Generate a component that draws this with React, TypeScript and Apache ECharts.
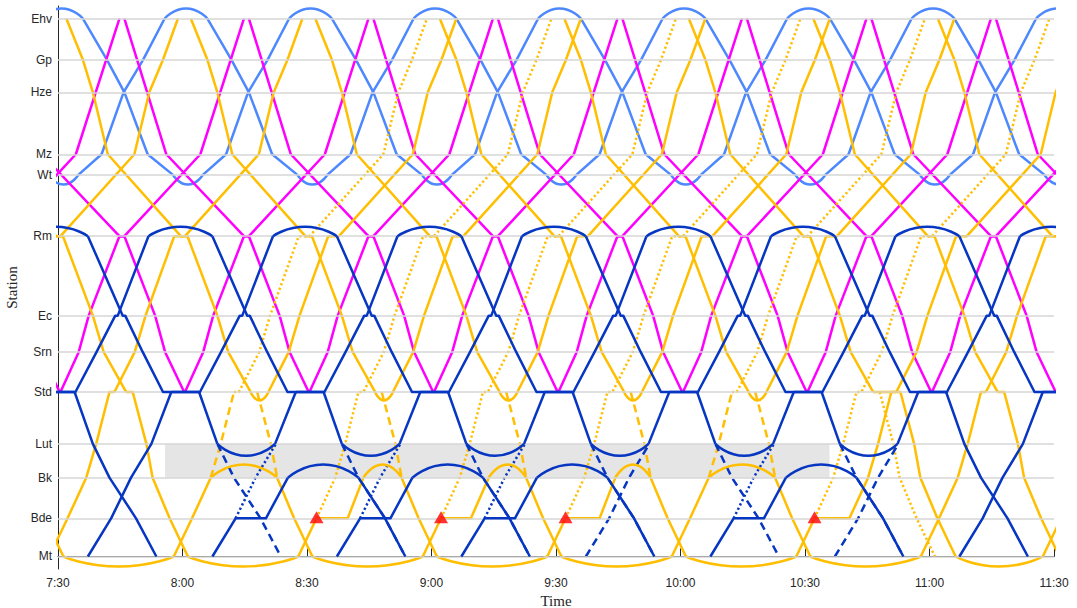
import React, { useEffect, useRef } from 'react';
import * as echarts from 'echarts';

type Pt = [number, string];

// all times are minutes after 7:30 (T0 = 7:30 in minutes after midnight)
const T0 = 450;
const xMin = 450;
const xMax = 690;
const xStep = 30;
const yMin = -2;
const yMax = 88;

const stationNames = ['Mt', 'Bde', 'Bk', 'Lut', 'Std', 'Srn', 'Ec', 'Rm', 'Wt', 'Mz', 'Hze', 'Gp', 'Ehv'];
const stationKm = [0, 6.1, 12.6, 18.0, 26.3, 32.7, 38.5, 51.2, 61.0, 64.3, 74.2, 79.4, 86.0];

// blocked section Lut-Bk
const blockFrom = 25.8;
const blockTo = 185.9;

// ---------- light blue sprinter Ehv - Wt ----------
const lbEhvDep = [-54, -24, 6, 36, 66, 96, 126, 156, 186, 216];
const lbDownRun: Pt[] = [[0, 'Ehv'], [5.8, 'Gp'], [10.0, 'Hze'], [15.6, 'Mz'], [21.7, 'Wt']];
const lbWtTurn = [21.7, 28.9];
const lbUpRun: Pt[] = [[28.9, 'Wt'], [34.5, 'Mz'], [39.8, 'Hze'], [44.5, 'Gp'], [49.7, 'Ehv']];
const lbEhvTurn = [49.7, 60.0];

// ---------- magenta intercity Ehv - Std ----------
const mgEhvDep = [-44, -14, 16, 46, 76, 106, 136, 166, 196, 226];
const mgDownRun: Pt[] = [[0, 'Ehv'], [10.1, 'Mz'], [28.8, 'Rm'], [30.0, 'Rm'], [37.4, 'Ec'], [39.8, 'Srn'], [44.4, 'Std']];
const mgStdDep = [-29.4, 0.6, 30.6, 60.6, 90.6, 120.6, 150.6, 180.6, 210.6];
const mgUpRun: Pt[] = [[0, 'Std'], [4.4, 'Srn'], [6.8, 'Ec'], [14.2, 'Rm'], [15.4, 'Rm'], [33.7, 'Mz'], [44.2, 'Ehv']];

// ---------- orange intercity Ehv - Mt ----------
const orEhvDep = [-28, 2, 32, 62, 92, 122, 152, 182, 212];
const orDownRun: Pt[] = [[0, 'Ehv'], [4.0, 'Gp'], [6.4, 'Hze'], [10.0, 'Mz'], [27.6, 'Rm'], [29.2, 'Rm'], [36.4, 'Ec'], [39.0, 'Srn'], [44.4, 'Std']];
const orSouthDownRun: Pt[] = [[0, 'Std'], [3.3, 'Lut'], [4.8, 'Bk'], [8.9, 'Bde'], [13.3, 'Mt']];
const orSouthDownFromBk: Pt[] = [[0, 'Bk'], [4.1, 'Bde'], [8.5, 'Mt']];
const orSouthUpRun: Pt[] = [[0, 'Mt'], [4.4, 'Bde'], [8.9, 'Bk'], [11.3, 'Lut'], [14.5, 'Std'], [15.7, 'Std']];
const orNorthUpRun: Pt[] = [[0, 'Std'], [4.9, 'Srn'], [7.5, 'Ec'], [14.4, 'Rm'], [17.0, 'Rm'], [34.8, 'Mz'], [38.4, 'Hze'], [41.7, 'Gp'], [45.3, 'Ehv']];
const orSouthDownStd = [[-13.6, -12], [16.4, 18], [226.4, 228]];
const orMtTurns = [[1.3, 27.9], [31.3, 57.9], [61.3, 87.9], [91.3, 117.9], [121.3, 147.9], [151.3, 177.9], [181.3, 207.9], [216.3, 237.3]];
const orSouthUpMtDep = [-2.1, 207.9, 237.3];
const orNorthUpStdDep = [-16.4, 13.6, 50.7, 80.7, 110.7, 140.7, 170.7, 202.0, 223.6];
const orStdTurns = [[46.4, 50.7], [76.4, 80.7], [106.4, 110.7], [136.4, 140.7], [166.4, 170.7]];
const orCutDownStdDep = [48, 78, 108, 138, 168];
const orBkTurns = [[36.8, 52.8], [73.6, 82.8], [103.8, 112.8], [134.3, 142.8], [156.8, 172.8]];
const orToBkMtDep = [27.9, 147.9];
const orBdeWaitMtDep = [57.9, 87.9, 117.9];
const orBdeWaitLeave = [69.8, 99.5, 130.5];
const orLateUp: Pt[] = [[177.9, 'Mt'], [182.3, 'Bde'], [190.7, 'Bde'], [195.2, 'Bk'], [197.6, 'Lut'], [200.8, 'Std'], [202.0, 'Std']];
const orHeldDown = [196.4, 203.0];
const orPlannedDownStdDep = [198.0];
const orPlannedUpFromBde = [57.9, 87.9, 117.9, 177.9];
const orPlannedUpFromBk = [27.9, 147.9];
const bdeHoldPoints = [62.3, 92.3, 122.3, 182.3];

// ---------- dark blue sprinter Rm - Mt ----------
const dbMtDep = [-82.8, -52.8, -22.8, 7.2, 37.2, 67.2, 97.2, 127.2, 157.2, 187.2, 217.2];
const dbNorthRun: Pt[] = [[20.1, 'Std'], [27.0, 'Std'], [32.1, 'Srn'], [36.6, 'Ec'], [37.2, 'Ec'], [44.6, 'Rm']];
const dbRmTurn = [44.6, 60.0];
const dbNorthDownRun: Pt[] = [[60.0, 'Rm'], [68.4, 'Ec'], [69.0, 'Ec'], [73.2, 'Srn'], [78.1, 'Std'], [86.8, 'Std']];
const dbSouthUpRun: Pt[] = [[0, 'Mt'], [5.6, 'Bde'], [10.4, 'Bk'], [15.3, 'Lut'], [20.1, 'Std']];
const dbSouthDownRun: Pt[] = [[0, 'Std'], [4.4, 'Lut'], [8.4, 'Bk'], [14.8, 'Bde'], [19.7, 'Mt']];
const dbSouthDownFromBk: Pt[] = [[0, 'Bk'], [6.4, 'Bde'], [11.3, 'Mt']];
const dbSouthUpMtDep = [-22.8, 7.2, 217.2];
const dbSouthDownStdDep = [4.0, 214.0];
const dbLutTurnStdDep = [34.0, 64.0, 94.0, 124.0, 154.0, 184.0];
const dbLutTurn = [4.4, 18.3];
const dbLutReturn: Pt[] = [[18.3, 'Lut'], [23.3, 'Std']];
const dbBdeWaitMtDep = [37.2, 67.2, 97.2, 157.2];
const dbBdeWaitLeave = [50.1, 80.1, 110.1, 170.1];
const dbBkTurnDep = [72.4, 102.4, 132.4, 192.4];
const dbCancelledMtDep = [127.2, 187.2];

const C_LB = '#4D88FF';
const C_MG = '#FF00FF';
const C_OR = '#FFBE00';
const C_DB = '#0636C2';

const km = (s: string) => stationKm[stationNames.indexOf(s)];
const run = (base: number, tpl: Pt[]) => tpl.map(([o, s]) => [T0 + base + o, km(s)]);
const turn = (from: number, to: number, s: string, bulge: number) => [
  [T0 + from, km(s)],
  [T0 + (from + to) / 2, km(s) + bulge],
  [T0 + to, km(s)],
];
const fmtTime = (v: number) => `${Math.floor(v / 60)}:${String(Math.round(v % 60)).padStart(2, '0')}`;

function buildOption() {
  const series: any[] = [];
  const add = (data: any[], color: string, style = 'solid', smooth = false, z = 3) => {
    series.push({
      type: 'line',
      data,
      symbol: 'none',
      showSymbol: false,
      smooth: smooth ? 0.6 : false,
      silent: true,
      animation: false,
      z,
      lineStyle: {
        color,
        width: 2.5,
        type: style === 'solid' ? 'solid' : style === 'dashed' ? [8, 5] : [2.2, 2.6],
        cap: 'butt',
        join: 'round',
      },
    });
  };

  // background: blocked area + station grid lines
  series.push({
    type: 'line',
    data: [],
    silent: true,
    z: 0,
    markArea: {
      silent: true,
      animation: false,
      itemStyle: { color: '#E5E5E5' },
      data: [[{ xAxis: T0 + blockFrom, yAxis: km('Lut') }, { xAxis: T0 + blockTo, yAxis: km('Bk') }]],
    },
  });
  series.push({
    type: 'line',
    data: [],
    silent: true,
    z: 1,
    markLine: {
      silent: true,
      animation: false,
      symbol: ['none', 'none'],
      label: { show: false },
      lineStyle: { color: '#D6D6D6', width: 1.5, type: 'solid' },
      data: stationKm.map((v) => ({ yAxis: v })),
    },
  });

  // light blue
  lbEhvDep.forEach((T) => {
    add(run(T, lbDownRun), C_LB);
    add(turn(T + lbWtTurn[0], T + lbWtTurn[1], 'Wt', -1.55), C_LB, 'solid', true);
    add(run(T, lbUpRun), C_LB);
    add(turn(T + lbEhvTurn[0], T + lbEhvTurn[1], 'Ehv', 1.6), C_LB, 'solid', true);
  });

  // magenta
  mgEhvDep.forEach((T) => add(run(T, mgDownRun), C_MG));
  mgStdDep.forEach((S) => add(run(S, mgUpRun), C_MG));

  // orange planned (dashed / dotted)
  orCutDownStdDep.forEach((D) => add(run(D, orSouthDownRun.slice(0, 3)), C_OR, 'dashed'));
  orPlannedDownStdDep.forEach((D) => add(run(D, orSouthDownRun), C_OR, 'dotted'));
  orPlannedUpFromBde.forEach((M) =>
    add([...run(M, orSouthUpRun.slice(1)), ...run(M + 15.7, orNorthUpRun).slice(1)], C_OR, 'dotted'));
  orPlannedUpFromBk.forEach((M) => {
    add(run(M, orSouthUpRun.slice(2, 5)), C_OR, 'dashed');
    add([...run(M, orSouthUpRun.slice(4)), ...run(M + 15.7, orNorthUpRun).slice(1)], C_OR, 'dotted');
  });

  // dark blue planned (dashed / dotted)
  dbLutTurnStdDep.forEach((D) => add(run(D, dbSouthDownRun.slice(1)), C_DB, 'dashed'));
  dbBdeWaitMtDep.forEach((M) => add(run(M, dbSouthUpRun.slice(1, 4)), C_DB, 'dotted'));
  dbCancelledMtDep.forEach((M) => add(run(M, dbSouthUpRun.slice(0, 4)), C_DB, 'dashed'));

  // orange actual
  orEhvDep.forEach((T) => add(run(T, orDownRun), C_OR, 'solid', false, 4));
  orSouthDownStd.forEach(([a, d]) => add([[T0 + a, km('Std')], ...run(d, orSouthDownRun)], C_OR, 'solid', false, 4));
  add([[T0 + orHeldDown[0], km('Std')], ...run(orHeldDown[1], orSouthDownRun)], C_OR, 'solid', false, 4);
  orMtTurns.forEach(([a, d]) => add(turn(a, d, 'Mt', -1.6), C_OR, 'solid', true, 4));
  orSouthUpMtDep.forEach((M) => add(run(M, orSouthUpRun), C_OR, 'solid', false, 4));
  orNorthUpStdDep.forEach((D) => add(run(D, orNorthUpRun), C_OR, 'solid', false, 4));
  orStdTurns.forEach(([a, d]) => add(turn(a, d, 'Std', -1.35), C_OR, 'solid', true, 4));
  orBkTurns.forEach(([a, d]) => {
    add(turn(a, d, 'Bk', 2.1), C_OR, 'solid', true, 4);
    add(run(d, orSouthDownFromBk), C_OR, 'solid', false, 4);
  });
  orToBkMtDep.forEach((M) => add(run(M, orSouthUpRun.slice(0, 3)), C_OR, 'solid', false, 4));
  orBdeWaitMtDep.forEach((M, i) => {
    const w = orBdeWaitLeave[i];
    const bk = orBkTurns[i + 1][0];
    add([[T0 + M, km('Mt')], [T0 + M + 4.4, km('Bde')], [T0 + w, km('Bde')], [T0 + bk, km('Bk')]], C_OR, 'solid', false, 4);
  });
  add(orLateUp.map(([t, s]) => [T0 + t, km(s)]), C_OR, 'solid', false, 4);

  // dark blue actual
  dbMtDep.forEach((M) => {
    add(run(M, dbNorthRun), C_DB, 'solid', false, 5);
    add(turn(M + dbRmTurn[0], M + dbRmTurn[1], 'Rm', 1.5), C_DB, 'solid', true, 5);
    add(run(M, dbNorthDownRun), C_DB, 'solid', false, 5);
  });
  dbSouthUpMtDep.forEach((M) => add(run(M, dbSouthUpRun), C_DB, 'solid', false, 5));
  dbSouthDownStdDep.forEach((D) => add(run(D, dbSouthDownRun), C_DB, 'solid', false, 5));
  dbLutTurnStdDep.forEach((D) => {
    add(run(D, dbSouthDownRun.slice(0, 2)), C_DB, 'solid', false, 5);
    add(turn(D + dbLutTurn[0], D + dbLutTurn[1], 'Lut', -1.9), C_DB, 'solid', true, 5);
    add(run(D, dbLutReturn), C_DB, 'solid', false, 5);
  });
  dbBdeWaitMtDep.forEach((M, i) => {
    const w = dbBdeWaitLeave[i];
    const d = dbBkTurnDep[i];
    add([[T0 + M, km('Mt')], [T0 + M + 5.6, km('Bde')], [T0 + w, km('Bde')], [T0 + w + 5.3, km('Bk')]], C_DB, 'solid', false, 5);
    add(turn(w + 5.3, d, 'Bk', 2.1), C_DB, 'solid', true, 5);
    add(run(d, dbSouthDownFromBk), C_DB, 'solid', false, 5);
  });

  // hold points
  series.push({
    type: 'scatter',
    data: bdeHoldPoints.map((t) => [T0 + t, km('Bde')]),
    symbol: 'triangle',
    symbolSize: [14, 12],
    symbolOffset: [0, -1],
    itemStyle: { color: '#FF0000' },
    silent: true,
    z: 10,
    animation: false,
  });

  return {
    animation: false,
    backgroundColor: '#ffffff',
    grid: { left: 58, right: 23, top: 6, bottom: 39, containLabel: false, outerBoundsMode: 'none' },
    xAxis: {
      type: 'value',
      min: xMin,
      max: xMax,
      interval: xStep,
      name: 'Time',
      nameLocation: 'middle',
      nameGap: 18,
      nameTextStyle: { fontFamily: 'Liberation Serif', fontSize: 15, color: '#262626' },
      axisLine: { show: true, lineStyle: { color: '#262626', width: 1 } },
      axisTick: { show: true, inside: true, length: 8, lineStyle: { color: '#262626' } },
      splitLine: { show: false },
      axisLabel: { formatter: (v: number) => fmtTime(v), color: '#262626', fontSize: 12, fontFamily: 'Liberation Sans', margin: 8 },
    },
    yAxis: {
      type: 'value',
      min: yMin,
      max: yMax,
      name: 'Station',
      nameLocation: 'middle',
      nameGap: 34,
      nameTextStyle: { fontFamily: 'Liberation Serif', fontSize: 15, color: '#262626' },
      axisLine: { show: true, lineStyle: { color: '#262626', width: 1 } },
      axisTick: { show: false },
      splitLine: { show: false },
      axisLabel: {
        customValues: stationKm,
        formatter: (v: number) => {
          let best = 0;
          stationKm.forEach((k, i) => { if (Math.abs(k - v) < Math.abs(stationKm[best] - v)) best = i; });
          return stationNames[best];
        },
        color: '#262626',
        fontSize: 12,
        fontFamily: 'Liberation Sans',
        margin: 6,
      },
    },
    series,
  };
}

export default function App() {
  const ref = useRef<HTMLDivElement>(null);
  useEffect(() => {
    document.body.style.margin = '0';
    if (!ref.current) return;
    const chart = echarts.init(ref.current, null, { renderer: 'svg' });
    chart.setOption(buildOption() as any);
    return () => chart.dispose();
  }, []);
  return <div ref={ref} style={{ width: 1077, height: 608 }} />;
}
